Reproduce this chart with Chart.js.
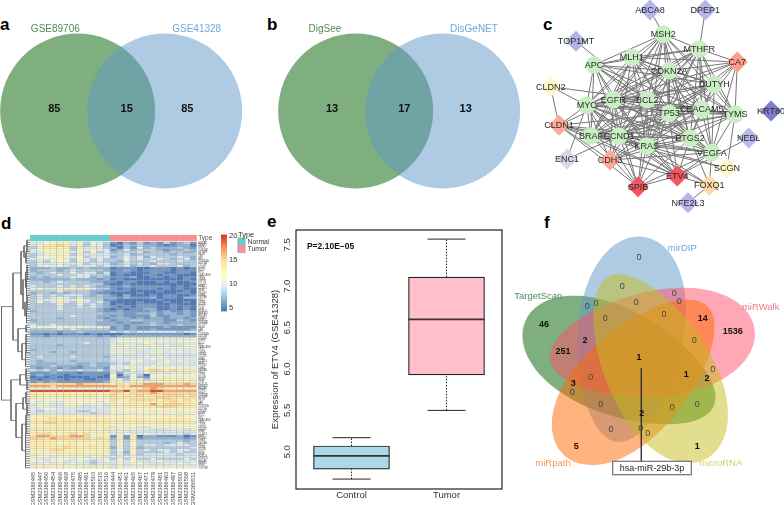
<!DOCTYPE html>
<html lang="en">
<head>
<meta charset="UTF-8">
<title>Multi-panel figure</title>
<script src="https://cdn.jsdelivr.net/npm/chart.js"></script>
<style>
  html, body { margin: 0; padding: 0; background: #fff; }
  #page { position: relative; width: 784px; height: 505px; overflow: hidden; }
  canvas { position: absolute; }
  .tag { position: absolute; font: bold 17px "Liberation Sans", Arial, sans-serif; color: #000; line-height: 17px; }
</style>
</head>
<body>
<div id="page">
  <div class="tag" style="left:0px;top:16px">a</div>
  <div class="tag" style="left:267px;top:16px">b</div>
  <div class="tag" style="left:543px;top:16px">c</div>
  <div class="tag" style="left:1px;top:215px">d</div>
  <div class="tag" style="left:267px;top:213px">e</div>
  <div class="tag" style="left:544px;top:214px">f</div>
</div>

<script>
// panel a, b: two-set venn counts
const vennANames = ["GSE89706", "GSE41328"];
const vennACounts = [85, 15, 85];
const vennBNames = ["DigSee", "DisGeNET"];
const vennBCounts = [13, 17, 13];

// panel c: network, positions read on a 792x675 grid over the panel
const nodeNames = ["ABCA8","DPEP1","MSH2","TOP1MT","MTHFR","MLH1","CA7","APC","CDKN2A","DUTYH","CLDN2","EGFR","BCL2","MYC","CEACAM5","TP53","TYMS","KRT80","CLDN1","BRAF","CCND1","NEBL","PTGS2","KRAS","VEGFA","ENC1","CDH3","SCGN","ETV4","SPIB","FOXQ1","NFE2L3"];
const nodeX = [390,556,430,168,538,335,652,222,448,583,92,280,382,200,545,447,645,753,117,213,297,686,510,380,575,141,270,621,472,354,568,504];
const nodeY = [30,30,103,124,147,172,186,195,212,253,260,299,299,316,328,340,343,333,376,408,408,414,415,438,458,477,480,505,528,560,556,608];
const coreGenes = ["MSH2","MTHFR","MLH1","APC","CDKN2A","DUTYH","EGFR","BCL2","MYC","CEACAM5","TP53","TYMS","BRAF","CCND1","PTGS2","KRAS","VEGFA"];
const diamondColors = {ABCA8:"#B6B6E8",DPEP1:"#B6B6E8",TOP1MT:"#B2B2E6",KRT80:"#7C7CCB",NEBL:"#B9B9EA",NFE2L3:"#B6B6E8",CA7:"#FF9D8C",CLDN2:"#FFF8C6",CLDN1:"#FFAA96",ENC1:"#D6D6E4",CDH3:"#FFA896",SCGN:"#FFF7C8",ETV4:"#F4545E",SPIB:"#F4545E",FOXQ1:"#FDD9A8"};
const edgeLists = {
  MSH2: "ABCA8 MLH1 APC MTHFR CDKN2A BCL2 TP53 EGFR KRAS MYC CCND1 TYMS DUTYH PTGS2 BRAF CEACAM5",
  DPEP1: "MTHFR",
  TOP1MT: "BCL2",
  MTHFR: "MLH1 CDKN2A CA7 APC DUTYH EGFR BCL2 MYC TP53 TYMS KRAS CCND1 PTGS2 VEGFA CEACAM5",
  MLH1: "APC CDKN2A CA7 DUTYH EGFR BCL2 MYC TP53 CCND1 KRAS BRAF TYMS PTGS2 CEACAM5",
  APC: "CDKN2A EGFR BCL2 MYC TP53 BRAF CCND1 KRAS PTGS2 CEACAM5 DUTYH",
  CDKN2A: "CA7 DUTYH EGFR BCL2 MYC TP53 CEACAM5 TYMS BRAF CCND1 KRAS PTGS2 VEGFA",
  CA7: "DUTYH TP53 TYMS VEGFA BCL2 CEACAM5 EGFR",
  DUTYH: "EGFR BCL2 MYC TP53 CEACAM5 TYMS CCND1 KRAS PTGS2 VEGFA BRAF",
  CLDN2: "CLDN1 BCL2 MYC",
  EGFR: "BCL2 MYC TP53 CEACAM5 TYMS BRAF CCND1 KRAS PTGS2 VEGFA CLDN1 CDH3 SPIB ETV4",
  BCL2: "MYC TP53 CEACAM5 TYMS BRAF CCND1 KRAS PTGS2 VEGFA CDH3 SPIB ETV4",
  MYC: "CEACAM5 TP53 TYMS CLDN1 BRAF CCND1 PTGS2 KRAS VEGFA ENC1 CDH3 SPIB ETV4 FOXQ1",
  CEACAM5: "TP53 TYMS CCND1 PTGS2 KRAS VEGFA BRAF CDH3",
  TP53: "TYMS BRAF CCND1 PTGS2 KRAS VEGFA CLDN1 CDH3 ETV4 SPIB",
  TYMS: "BRAF CCND1 PTGS2 KRAS VEGFA SCGN",
  CLDN1: "BRAF CDH3 ETV4 KRAS CCND1 SPIB PTGS2",
  BRAF: "CCND1 PTGS2 KRAS VEGFA SPIB ETV4 SCGN",
  CCND1: "PTGS2 KRAS VEGFA ENC1 CDH3 SPIB ETV4 FOXQ1",
  NEBL: "ETV4",
  PTGS2: "KRAS VEGFA SPIB ETV4 FOXQ1 CDH3",
  KRAS: "VEGFA CDH3 SPIB ETV4 SCGN",
  VEGFA: "ETV4 SPIB CDH3 FOXQ1",
  ETV4: "SPIB FOXQ1 CDH3",
  FOXQ1: "NFE2L3"
};

// panel d: heatmap, one string per row, 12 normal then 13 tumor samples, digit is a colour level
const sampleNames = ["GSM2386445","GSM2386447","GSM2386450","GSM2386454","GSM2386466","GSM2386468","GSM2386475","GSM2386485","GSM2386491","GSM2386503","GSM2386515","GSM2386516","GSM2386444","GSM2386451","GSM2386461","GSM2386465","GSM2386467","GSM2386471","GSM2386479","GSM2386481","GSM2386483","GSM2386497","GSM2386500","GSM2386508","GSM2386511"];
const heatRows = [
"445666453543 1021312131231","456676463553 0132322101220","356656364443 2031423222321","455665354544 1242333212232",
"446566463534 2333423323322","345555354444 3342333332333","355565453444 2343424333432","444454354343 3353433432342",
"343555354343 3243334333433","354454453444 2343432443333","345454344434 3342334333423",
"222322323222 0111001110101","233323433332 1121011110111","323433534424 0110001100110","333343344333 0100011011000",
"232333444232 1112001101011","222222322212 0100000000010","332343333221 1011000101001","333333333331 0010000000000",
"433343434322 1121111110101","554466565433 1010111010100","333343333221 1110000100010","233232333211 0000100000110",
"343434443232 1020001011001","343454343332 2121112011022",
"344454454331 1000000100000","353464364342 0000100010010","333353353432 0100111001000","333343343432 1010111001010",
"333343333321 0101122001010","233333333321 1211112121121","333333333332 2211223122121","333333433322 1211113112221",
"333323333321 2221212212212","233333333332 1223322211321","333333333322 2121123212222","433433333322 2212223222322",
"555555655454 1212111121111","333343433333 1212112111112","222212232222 4343444444344","110101110100 0011111111101",
"221222222212 1222222222222","333333333333 4555555555555","333333333333 4555565554555","333333334333 4444454444444",
"333323333333 5455445454455","333333333333 5554555555555","233333333333 4444444444444","333233233333 5556445545545",
"333333333333 4444444444444","343333433332 4544454544444",
"333333333333 4444445444444","323333233333 4445544454544","322233322322 3435444554454","222322212322 4444445444444",
"212212112221 5456456565565","434243343342 4435467767656","111211101111 4244454444545","121110111110 5035305555555",
"010100000100 5125215565555","101110110011 5535536665655","121211111112 5545554555555","777777787777 6767788877787",
"888788888888 8778888888888","555555555555 5555578755555","999999999999 8897889988888","666666666666 7767778777777",
"665666666656 7566766677767","655556555555 6666666776666","555555556555 7667777677676","545445555545 6556666667666",
"455445554554 6566668677766","555445544454 6556666777666","445544444444 5555555555555","434444433444 5555556555555",
"444444444344 5556555555555",
"566666666666 5555555565655","666766666666 6666666666665","666666676666 6666665666665","667766666666 6656666666666",
"656666666566 5555555655555","566666666566 4565445555555","666666666656 5555554445545","555555555555 4544444444444",
"677666767566 4454454444434","788777887565 1616022111201","776877777676 2516122222212","666666666656 3636333333323",
"666656666566 3535333323433","666666656666 3535344344443","666667666656 2535233333334","666776666666 3536343443443",
"555666665566 3425333343433","655555665655 3535344444344","555455554564 4445444444444","544555455445 3535334333343",
"554554454345 4545444544444","445454544344 4545544454545","555555555455 4545454545454","666666566666 4555555555555"
];
const levelColors = ["#5079B8","#7097C5","#93B3D3","#B5CCDF","#DAE7EC","#F1F3CF","#FBEDB0","#FBD795","#F4A26C","#D4503C"];
const groupColors = {normal: "#66CFCF", tumor: "#FF8F8F"};
const groupNames = ["Normal", "Tumor"];
const colorbarStops = ["#4575B4","#91BFDB","#E0F3F8","#FFFFBF","#FEE090","#FC8D59","#D73027"];
const colorbarTicks = [5, 10, 15, 20];
// row tree: {x, kids} or leaf range [firstRow, lastRow, x]
const rowTree = {x: 1.5, kids: [
  {x: 13, kids: [
    {x: 21, kids: [
      {x: 24, kids: [[1, 6, 27], [6, 11, 26]]},
      {x: 23, kids: [
        {x: 25.5, kids: [[12, 18, 27], [18, 25, 26.5]]},
        {x: 25, kids: [[25, 31, 27], [31, 37, 26.5]]}
      ]}
    ]},
    {x: 18, kids: [[38, 41, 26], {x: 22, kids: [[42, 50, 26], [50, 56, 25.5]]}]}
  ]},
  {x: 11, kids: [
    {x: 20, kids: [[57, 62, 26], [62, 66, 27]]},
    {x: 16, kids: [
      {x: 23, kids: [[67, 72, 26], [72, 77, 27]]},
      {x: 22, kids: [[77, 85, 26], [85, 100, 25.5]]}
    ]}
  ]}
]};

// panel e: ETV4 box plot
const boxGroups = ["Control", "Tumor"];
const boxLow = [4.67, 5.50];
const boxQ1 = [4.79, 5.93];
const boxMedian = [4.95, 6.60];
const boxQ3 = [5.07, 7.11];
const boxHigh = [5.17, 7.57];
const boxColors = ["#ADD8E6", "#FFC0CB"];

// panel f: five-set venn, read on a 882x840 grid over the panel
const petalNames = ["TargetScan", "mirDIP", "miRWalk", "miRpath", "microRNA"];
const petalCx = [389, 420, 487, 436, 502];
const petalCy = [415, 343, 358, 466, 428];
const petalAngle = [155.4, 82.7, 8.6, 225.8, -61.8];
const petalColors = ["rgba(0,95,0,0.5)", "rgba(95,151,201,0.5)", "rgba(255,80,105,0.5)", "rgba(255,105,0,0.5)", "rgba(197,190,30,0.5)"];
const petalOrder = [0, 1, 2, 3, 4];
const regionCounts = [0,0,0,0,0,0,0,0,0,14,1536,46,2,251,0,1,1,0,2,0,3,0,0,0,0,2,0,0,0,5,1];
const regionX = [447,397,553,568,439,292,318,346,522,638,728,162,285,219,613,447,589,668,651,302,250,247,332,547,622,455,452,473,363,259,622];
const regionY = [95,182,203,227,230,242,235,279,267,279,317,296,346,379,346,396,446,433,460,455,473,502,537,545,537,563,608,625,613,663,663];
const highlightMirna = "hsa-miR-29b-3p";

const FONT = '"Liberation Sans", Arial, sans-serif';
Chart.defaults.font.family = FONT;
Chart.defaults.animation = false;
Chart.defaults.layout.autoPadding = false;
Chart.defaults.plugins.legend.display = false;
Chart.defaults.plugins.tooltip.enabled = false;

// text placed through the chart's x/y scales
const textPlugin = {
  id: "texts",
  afterDatasetsDraw(chart, args, opts) {
    const ctx = chart.ctx;
    ctx.save();
    ctx.textBaseline = "middle";
    (opts.items || []).forEach(t => {
      const x = chart.scales.x.getPixelForValue(t.x);
      const y = chart.scales.y.getPixelForValue(t.y);
      ctx.font = (t.bold ? "bold " : "") + (t.size || 9) + "px " + FONT;
      ctx.textAlign = t.align || "center";
      if (t.box) {
        const w = ctx.measureText(t.text).width + 14, h = 13.5;
        ctx.fillStyle = "#fff";
        ctx.strokeStyle = "#555";
        ctx.lineWidth = 1;
        ctx.fillRect(x - w / 2, y - h / 2, w, h);
        ctx.strokeRect(x - w / 2, y - h / 2, w, h);
      }
      ctx.fillStyle = t.color || "#222";
      ctx.fillText(t.text, x, y + 0.5);
    });
    ctx.restore();
  }
};

// filled egg-shaped petals for the five-set venn
const petalPlugin = {
  id: "petals",
  beforeDatasetsDraw(chart) {
    const ctx = chart.ctx, sx = chart.scales.x, sy = chart.scales.y;
    const a = 310, b = 158, egg = 0.14;
    petalOrder.forEach(i => {
      const th = petalAngle[i] * Math.PI / 180;
      ctx.beginPath();
      for (let k = 0; k < 120; k++) {
        const t = k / 120 * 2 * Math.PI;
        const u = a * Math.cos(t);
        const v = b * Math.sin(t) * (1 + egg * Math.cos(t));
        const gx = petalCx[i] + u * Math.cos(th) - v * Math.sin(th);
        const gy = petalCy[i] - u * Math.sin(th) - v * Math.cos(th);
        if (k === 0) ctx.moveTo(sx.getPixelForValue(gx), sy.getPixelForValue(gy));
        else ctx.lineTo(sx.getPixelForValue(gx), sy.getPixelForValue(gy));
      }
      ctx.closePath();
      ctx.fillStyle = petalColors[i];
      ctx.fill();
    });
  }
};

const framePlugin = {
  id: "frame",
  afterDatasetsDraw(chart) {
    const c = chart.chartArea, ctx = chart.ctx;
    ctx.save();
    ctx.strokeStyle = "#222";
    ctx.lineWidth = 1.2;
    ctx.strokeRect(c.left, c.top, c.right - c.left, c.bottom - c.top);
    ctx.restore();
  }
};

const page = document.getElementById("page");
function addCanvas(left, top, w, h) {
  const c = document.createElement("canvas");
  c.width = w; c.height = h;
  c.style.left = left + "px";
  c.style.top = top + "px";
  c.style.width = w + "px";
  c.style.height = h + "px";
  page.appendChild(c);
  return c.getContext("2d");
}
function gridScales(w, h) {
  return {
    x: {type: "linear", min: 0, max: w, display: false},
    y: {type: "linear", min: 0, max: h, reverse: true, display: false}
  };
}
const gap = {x: NaN, y: NaN};
const noGrid = {display: false, drawTicks: false};

// panels a and b
function drawVenn(left, names, counts, xs) {
  new Chart(addCanvas(left, 0, 260, 215), {
    type: "bubble",
    data: {datasets: [
      {data: [{x: xs[1], y: 333, r: 77.5}], backgroundColor: "rgba(95,151,201,0.5)", borderWidth: 0, clip: false},
      {data: [{x: xs[0], y: 333, r: 77.5}], backgroundColor: "rgba(0,95,0,0.5)", borderWidth: 0, clip: false}
    ]},
    options: {
      responsive: false,
      layout: {padding: 0},
      scales: gridScales(780, 645),
      plugins: {texts: {items: [
        {text: names[0], x: xs[2], y: 87, color: "#4F8A5C", size: 10},
        {text: names[1], x: xs[3], y: 87, color: "#70A6D8", size: 10},
        {text: String(counts[0]), x: xs[4], y: 326, bold: true, size: 11, color: "#111"},
        {text: String(counts[1]), x: xs[5], y: 326, bold: true, size: 11, color: "#111"},
        {text: String(counts[2]), x: xs[6], y: 326, bold: true, size: 11, color: "#111"}
      ]}}
    },
    plugins: [textPlugin]
  });
}
drawVenn(0, vennANames, vennACounts, [233, 494, 166, 590, 163, 380, 562]);
drawVenn(260, vennBNames, vennBCounts, [287, 548, 195, 642, 216, 433, 617]);

// panel c
const edgePoints = [];
Object.keys(edgeLists).forEach(from => {
  const i = nodeNames.indexOf(from);
  edgeLists[from].split(" ").forEach(to => {
    const j = nodeNames.indexOf(to);
    edgePoints.push({x: nodeX[i], y: nodeY[i]}, {x: nodeX[j], y: nodeY[j]}, gap);
  });
});
const nodePoints = nodeNames.map((n, i) => ({x: nodeX[i], y: nodeY[i]}));
new Chart(addCanvas(520, 0, 264, 225), {
  type: "scatter",
  data: {datasets: [
    {
      data: nodePoints, order: 1, clip: false,
      pointStyle: nodeNames.map(n => coreGenes.includes(n) ? "circle" : "rectRot"),
      pointRadius: nodeNames.map(n => coreGenes.includes(n) ? 8.8 : 10.5),
      pointBackgroundColor: nodeNames.map(n => diamondColors[n] || "#C9EEC3"),
      pointBorderWidth: 0
    },
    {data: edgePoints, order: 2, showLine: true, spanGaps: false, pointRadius: 0, borderColor: "#777", borderWidth: 1, clip: false}
  ]},
  options: {
    responsive: false,
    scales: gridScales(792, 675),
    plugins: {texts: {items: nodeNames.map((n, i) => ({text: n, x: nodeX[i], y: nodeY[i], size: 9, color: "#2a2a2a"}))}}
  },
  plugins: [textPlugin]
});

// panel d
const ROWS = heatRows.length;
const heatLevels = heatRows.map(r => r.replace(" ", "").split("").map(Number));
const cellBorder = {left: 0.5, right: 0.5, top: 0.2, bottom: 0.2};
const heatSets = [
  {data: sampleNames.map(() => 2.7), backgroundColor: sampleNames.map((s, i) => i < 12 ? groupColors.normal : groupColors.tumor), borderColor: "rgba(140,140,140,0.6)", borderWidth: {left: 0.5, right: 0.5, top: 0, bottom: 0}},
  {data: sampleNames.map(() => 0.3), backgroundColor: "rgba(0,0,0,0)", borderWidth: 0}
].concat(heatLevels.map(levels => ({
  data: levels.map(() => 1),
  backgroundColor: levels.map(l => levelColors[l]),
  borderColor: "rgba(135,135,135,0.55)",
  borderWidth: cellBorder,
  borderSkipped: false
})));
const rowLabels = [];
for (let i = 0; i < ROWS; i++) rowLabels.push(nodeNames[i % nodeNames.length]);
new Chart(addCanvas(30, 232, 190, 273), {
  type: "bar",
  data: {labels: sampleNames, datasets: heatSets},
  options: {
    responsive: false,
    indexAxis: "x",
    datasets: {bar: {barPercentage: 1, categoryPercentage: 1, stack: "all"}},
    scales: {
      x: {
        stacked: true,
        grid: noGrid, border: {display: false},
        afterFit: s => { s.height = 36; },
        ticks: {autoSkip: false, minRotation: 90, maxRotation: 90, font: {size: 5.6}, color: "#444", padding: 3}
      },
      y: {
        stacked: true, min: 0, max: 103, reverse: true, position: "right",
        grid: noGrid, border: {display: false},
        afterFit: s => { s.width = 23.3; },
        afterBuildTicks: s => {
          s.ticks = [{value: 1.35}].concat(rowLabels.map((n, i) => ({value: 3 + i + 0.5})));
        },
        ticks: {
          autoSkip: false, padding: 1.5, color: "#555",
          font: c => ({size: c.tick && c.tick.value === 1.35 ? 6.5 : 2.6}),
          callback: v => v === 1.35 ? "Type" : rowLabels[Math.floor(v - 3)]
        }
      }
    }
  }
});

// row dendrogram
const treePoints = [];
function seg(x1, y1, x2, y2) { treePoints.push({x: x1, y: y1 + 2.5}, {x: x2, y: y2 + 2.5}, gap); }
function walkTree(node) {
  if (Array.isArray(node)) {
    const [a, b, x] = node;
    for (let r = a; r <= b; r++) seg(x, r, 30, r);
    seg(x, a, x, b);
    return {x: x, mid: (a + b) / 2};
  }
  const kids = node.kids.map(walkTree);
  seg(node.x, kids[0].mid, node.x, kids[kids.length - 1].mid);
  kids.forEach(k => seg(node.x, k.mid, k.x, k.mid));
  return {x: node.x, mid: (kids[0].mid + kids[kids.length - 1].mid) / 2};
}
walkTree(rowTree);
new Chart(addCanvas(0, 232, 30, 237), {
  type: "scatter",
  data: {datasets: [{data: treePoints, showLine: true, spanGaps: false, pointRadius: 0, borderColor: "#666", borderWidth: 0.8}]},
  options: {responsive: false, scales: gridScales(30, 103)}
});

// colour bar
new Chart(addCanvas(221, 228, 24, 90), {
  type: "bar",
  data: {labels: ["level"], datasets: [{
    data: [[4.2, 20.2]],
    barPercentage: 1, categoryPercentage: 1,
    backgroundColor: c => {
      const a = c.chart.chartArea;
      if (!a) return "#fff";
      const g = c.chart.ctx.createLinearGradient(0, a.bottom, 0, a.top);
      colorbarStops.forEach((col, i) => g.addColorStop(i / (colorbarStops.length - 1), col));
      return g;
    }
  }]},
  options: {
    responsive: false,
    layout: {padding: {top: 3, bottom: 4}},
    scales: {
      x: {display: false},
      y: {
        position: "right", min: 4.2, max: 20.2,
        grid: noGrid, border: {display: false},
        afterFit: s => { s.width = 18; },
        afterBuildTicks: s => { s.ticks = colorbarTicks.map(v => ({value: v})); },
        ticks: {font: {size: 7.5}, color: "#333", padding: 2}
      }
    }
  }
});

// Type legend
new Chart(addCanvas(236, 228, 48, 30), {
  type: "scatter",
  data: {datasets: [{
    data: [{x: 5.5, y: 13.5}, {x: 5.5, y: 21}],
    pointStyle: "rect", pointRadius: 5.2, pointBorderWidth: 0.5, pointBorderColor: "#999",
    pointBackgroundColor: [groupColors.normal, groupColors.tumor]
  }]},
  options: {
    responsive: false,
    scales: gridScales(48, 30),
    plugins: {texts: {items: [
      {text: "Type", x: 2, y: 6, size: 7.5, align: "left", color: "#333"},
      {text: groupNames[0], x: 11.5, y: 13.5, size: 6.8, align: "left", color: "#333"},
      {text: groupNames[1], x: 11.5, y: 21, size: 6.8, align: "left", color: "#333"}
    ]}}
  },
  plugins: [textPlugin]
});

// panel e
const stemPoints = [], capPoints = [], medianPoints = [];
boxGroups.forEach((g, i) => {
  const x = i + 1;
  stemPoints.push({x: x, y: boxLow[i]}, {x: x, y: boxQ1[i]}, gap, {x: x, y: boxQ3[i]}, {x: x, y: boxHigh[i]}, gap);
  capPoints.push({x: x - 0.2, y: boxLow[i]}, {x: x + 0.2, y: boxLow[i]}, gap, {x: x - 0.2, y: boxHigh[i]}, {x: x + 0.2, y: boxHigh[i]}, gap);
  medianPoints.push({x: x - 0.4, y: boxMedian[i]}, {x: x + 0.4, y: boxMedian[i]}, gap);
});
const lineSet = {type: "line", showLine: true, spanGaps: false, pointRadius: 0, fill: false};
new Chart(addCanvas(260, 225, 246, 280), {
  type: "bar",
  data: {datasets: [
    Object.assign({}, lineSet, {data: medianPoints, borderColor: "#333", borderWidth: 1.6, order: 1}),
    Object.assign({}, lineSet, {data: capPoints, borderColor: "#222", borderWidth: 1, order: 2}),
    Object.assign({}, lineSet, {data: stemPoints, borderColor: "#222", borderWidth: 1, borderDash: [1.5, 1.5], order: 3}),
    {
      data: boxGroups.map((g, i) => ({x: i + 1, y: [boxQ1[i], boxQ3[i]]})),
      backgroundColor: boxColors, borderColor: "#222", borderWidth: 1.2, borderSkipped: false,
      barThickness: 76, order: 4
    }
  ]},
  options: {
    responsive: false,
    layout: {padding: {top: 5, right: 4, bottom: 0, left: 0}},
    scales: {
      x: {
        type: "linear", min: 0.416, max: 2.584, offset: false,
        grid: noGrid, border: {display: false},
        afterFit: s => { s.height = 16; },
        afterBuildTicks: s => { s.ticks = boxGroups.map((g, i) => ({value: i + 1})); },
        ticks: {font: {size: 9.5}, color: "#333", padding: 1, callback: v => boxGroups[v - 1]}
      },
      y: {
        min: 4.55, max: 7.68,
        grid: noGrid, border: {display: false},
        afterFit: s => { s.width = 36; s.paddingTop = 0; s.paddingBottom = 0; },
        afterBuildTicks: s => { s.ticks = [5, 5.5, 6, 6.5, 7, 7.5].map(v => ({value: v})); },
        title: {display: true, text: "Expression of ETV4 (GSE41328)", font: {size: 9.5}, color: "#333", padding: {top: 10, bottom: 0}},
        ticks: {minRotation: 90, maxRotation: 90, crossAlign: "center", font: {size: 9.5}, color: "#333", padding: 2, callback: v => v.toFixed(1)}
      }
    },
    plugins: {texts: {items: [
      {text: "P=2.10E\u221205", x: 0.78, y: 7.49, bold: true, size: 8.5, color: "#111"}
    ]}}
  },
  plugins: [framePlugin, textPlugin]
});

// panel f
const petalLabelX = [145, 577, 812, 189, 692];
const petalLabelY = [212, 70, 247, 713, 713];
const petalLabelColor = ["#4F8A5C", "#70A6D8", "#F07C8C", "#F5995A", "#D2CE62"];
new Chart(addCanvas(490, 225, 294, 280), {
  type: "scatter",
  data: {datasets: [{
    data: [{x: 454, y: 430}, {x: 454, y: 712}],
    showLine: true, pointRadius: 0, borderColor: "#333", borderWidth: 1
  }]},
  options: {
    responsive: false,
    scales: gridScales(882, 840),
    plugins: {texts: {items: petalNames.map((n, i) => ({text: n, x: petalLabelX[i], y: petalLabelY[i], size: 9.5, color: petalLabelColor[i]}))
      .concat(regionCounts.map((c, i) => ({text: String(c), x: regionX[i], y: regionY[i], size: 9, bold: c > 0, color: c > 0 ? "#111" : "#444"})))
      .concat([{text: highlightMirna, x: 486, y: 729, size: 9, box: true, color: "#222"}])}}
  },
  plugins: [petalPlugin, textPlugin]
});
</script>
</body>
</html>
